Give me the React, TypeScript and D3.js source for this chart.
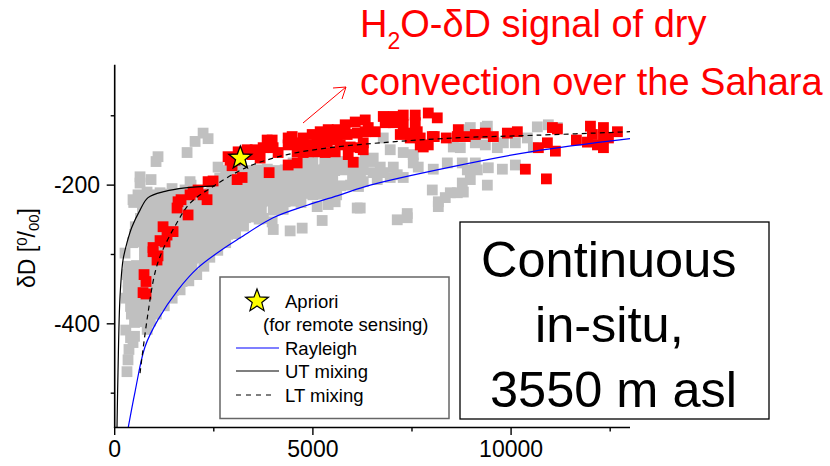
import React from "react";
import * as d3 from "d3";

const FONT = "'Liberation Sans', Arial, sans-serif";

const grayScatter: [number, number][] = [
  [2230,-125],[2356,-133],[2028,-137],[1826,-153],[1093,-159],[1043,-166],[639,-188],[639,-197],[917,-192],[2608,-174],
  [1447,-205],[1901,-195],[1926,-200],[462,-221],[588,-214],[816,-210],[1144,-211],[715,-224],[1018,-221],[1270,-218],[1775,-207],
  [260,-298],[336,-452],[310,-469],[462,-427],[400,-420],[360,-437],[500,-418],[820,-408],[280,-409],
  [6270,-195],[6623,-192],[6951,-189],[7279,-189],[7658,-174],[8037,-177],[8391,-168],[8769,-168],[9098,-168],[7532,-168],
  [7532,-156],[7279,-153],[6951,-149],[6775,-132],[6522,-161],[6320,-164],[6270,-178],[6699,-174],[7028,-174],[7128,-185],
  [6775,-182],[6522,-182],[8542,-145],[8719,-146],[9098,-139],[9350,-142],[8921,-120],[9350,-117],[10662,-116],[10940,-113],
  [11168,-117],[10410,-132],[10562,-146],[10108,-139],[9805,-139],[10108,-171],[9780,-177],[9426,-175],[9401,-200],[9653,-146],
  [9401,-115],[8971,-117],[8012,-207],[8164,-231],[8164,-224],[8340,-218],[8467,-211],[8643,-211],[8795,-210],[8769,-197],
  [8971,-192],[8896,-178],[9148,-178],[7128,-250],[7380,-247],[7380,-241],[6194,-233],
  [3644,-249],[4000,-264],[4426,-266],[4730,-262],[5234,-251],[5108,-231],[5385,-228],[5562,-224],[6118,-233],[3972,-253],
];

const grayRows: [number, number[]][] = [
  [-167,[4500,4800,5000,5300,5500,5750,6000,6200,6450]],
  [-178,[2800,3000,3200,3400,3650,3850,4100,4300,4550,4800,5050,5300,5550,5750,5950,6150]],
  [-189,[2650,2900,3100,3300,3500,3700,3900,4100,4300,4500,4700,4900,5100,5300,5500,6000,6200]],
  [-201,[2450,2650,2900,3100,3300,3500,3700,3900,4100,4300,4500,4700,4900,5100,5300,5500,5700,5950,6150]],
  [-213,[1000,1250,1500,1750,2200,2400,2600,2800,3000,3200,3400,3650,3850,4050,4250,4450,4650,4850,5000,5200,5400,5600]],
  [-224,[480,680,880,1080,1300,1500,1700,1900,2100,2300,2500,2700,2900,3100,3300,3500,3700,3900,4100,4300,4500,4700]],
  [-236,[700,900,1100,1300,1500,1700,1900,2100,2300,2500,2700,2900,3100,3300,3500,3700,4000,4250]],
  [-247,[650,850,1050,1250,1450,1650,1850,2050,2250,2450,2650,2850,3050,3300,3500,3750]],
  [-259,[520,750,950,1150,1350,1550,1750,1950,2150,2350,2550,2750,3000,3250]],
  [-270,[500,700,900,1100,1300,1500,1700,1900,2100,2300,2500,2700,2850,3050]],
  [-282,[450,650,850,1050,1250,1450,1650,1850,2050,2250,2450,2650,2800]],
  [-293,[750,950,1150,1350,1550,1750,1950,2150,2350,2600]],
  [-305,[750,950,1150,1350,1550,1750,1950,2150,2400]],
  [-316,[350,550,750,950,1150,1350,1550,1750,1950,2250]],
  [-328,[320,520,720,920,1120,1320,1520,1720,1900,2070]],
  [-339,[340,540,740,940,1140,1340,1540,1700,1870]],
  [-351,[340,540,740,940,1140,1300,1480,1650]],
  [-362,[290,490,690,890,1090,1290,1450]],
  [-374,[400,600,800,1000,1250]],
  [-385,[420,620,820,1050]],
  [-397,[500,700,900]],
];

const redPoints: [number, number][] = [
  [740,-329],[790,-339],[715,-355],[790,-357],[967,-296],[1093,-302],[1068,-308],[967,-290],[1144,-280],[1270,-282],
  [1320,-272],[1220,-260],[1472,-267],[1851,-243],[1598,-224],[1573,-233],[1674,-221],[1977,-210],[1901,-214],[2103,-207],
  [2356,-195],[2482,-194],[2229,-214],[2330,-221],[3038,-164],[2911,-164],[2860,-159],[2961,-172],[3114,-152],[3341,-149],
  [3543,-149],[3088,-192],[3214,-189],[3846,-135],[3972,-135],[3745,-146],[3997,-146],[4123,-153],[3669,-161],[3467,-156],
  [3896,-182],[4376,-171],[4603,-168],[4376,-132],[4477,-130],[4376,-142],[4628,-139],[4755,-132],[4982,-127],[5184,-123],
  [5386,-120],[5613,-120],[5815,-113],[6068,-109],[6320,-106],[4856,-142],[5108,-139],[5360,-138],[5613,-135],[5865,-127],
  [6118,-125],[6320,-123],[4881,-152],[5133,-152],[5310,-153],[5562,-152],[5891,-156],[6017,-167],[6270,-139],[4603,-152],
  [4755,-153],[5941,-145],[5689,-142],[5360,-127],[5108,-130],[6396,-117],[6194,-146],[6270,-149],[6573,-123],[6775,-101],
  [6825,-110],[7028,-101],[7279,-99],[7582,-99],[7279,-113],[7028,-110],[7582,-110],[7911,-96],[8138,-103],[7204,-127],
  [7456,-132],[7633,-123],[7405,-125],[7708,-142],[7911,-142],[7708,-132],[8062,-130],[8365,-132],[8668,-120],[8643,-130],
  [8845,-130],[9098,-127],[9350,-125],[9552,-130],[9906,-125],[10158,-123],[11042,-117],[11168,-119],[10916,-139],[10688,-146],
  [11118,-151],[10360,-177],[10891,-191],[11648,-135],[12002,-115],[12330,-117],[12683,-123],[12052,-127],[11926,-138],[12178,-142],
  [12330,-146],[12456,-132],[12330,-130],[7784,-145],[8012,-130],
];

const rayleigh: [number, number][] = [
  [343,-549],[513,-498],[765,-433],[1093,-394],[1598,-351],[2103,-319],[2785,-290],[3164,-276],[3997,-247],[4856,-229],
  [5689,-214],[6446,-200],[8467,-174],[10486,-152],[13000,-133],
];
const utMixing: [number, number][] = [
  [58,-549],[83,-470],[134,-361],[210,-308],[310,-283],[437,-260],[639,-236],[841,-218],[1270,-209],[1775,-204],[2533,-201],
];
const ltMixing: [number, number][] = [
  [639,-471],[816,-394],[1018,-326],[1194,-296],[1573,-254],[1901,-226],[2482,-202],[3341,-174],[4351,-156],[5436,-146],
  [6699,-139],[8543,-132],[10663,-128],[13000,-123],
];
const apriori: [number, number] = [3169, -161];

const xMajor = [0, 5000, 10000];
const xMinor = [2500, 7500, 12500];
const yMajor = [-200, -400];
const yMinor = [-100, -300, -500];

const x = d3.scaleLinear().domain([0, 13000]).range([114.7, 630]);
const y = d3.scaleLinear().domain([-549.5, -26.5]).range([427.5, 64.8]);
const line = d3.line<[number, number]>().x(d => x(d[0])).y(d => y(d[1])).curve(d3.curveCatmullRom);

const starPath = (cx: number, cy: number, R: number) => {
  const pts = d3.range(10).map(i => {
    const r = i % 2 === 0 ? R : R * 0.42;
    const a = -Math.PI / 2 + (i * Math.PI) / 5;
    return `${cx + r * Math.cos(a)},${cy + r * Math.sin(a)}`;
  });
  return "M" + pts.join("L") + "Z";
};

const S = 10.8;

export default function App() {
  const gray: [number, number][] = [
    ...grayRows.flatMap(([v, xs]) => xs.map((k, i) => [k, v + (i % 3) - 1] as [number, number])),
    ...grayScatter,
  ];
  return (
    <svg width={830} height={466} style={{ position: "absolute", left: 0, top: 0, display: "block", background: "#fff" }} fontFamily={FONT}>
      {gray.map((d, i) => (
        <rect key={i} x={x(d[0]) - S / 2} y={y(d[1]) - S / 2} width={S} height={S} fill="#c0c0c0" />
      ))}
      {redPoints.map((d, i) => (
        <rect key={i} x={x(d[0]) - S / 2} y={y(d[1]) - S / 2} width={S} height={S} fill="#ff0000" />
      ))}
      <path d={line(rayleigh)!} fill="none" stroke="#0000ff" strokeWidth={1.2} />
      <path d={line(utMixing)!} fill="none" stroke="#000" strokeWidth={1.2} />
      <path d={line(ltMixing)!} fill="none" stroke="#000" strokeWidth={1.2} strokeDasharray="5 4" />
      <path d={starPath(x(apriori[0]), y(apriori[1]), 12)} fill="#ffff00" stroke="#000" strokeWidth={1.3} />

      {/* axes */}
      <line x1={x(0)} x2={x(0)} y1={64.8} y2={428} stroke="#000" strokeWidth={1.6} />
      <line x1={x(0) - 0.8} x2={630} y1={427.5} y2={427.5} stroke="#000" strokeWidth={1.6} />
      {xMajor.map(t => (
        <g key={t}>
          <line x1={x(t)} x2={x(t)} y1={427.5} y2={435} stroke="#000" strokeWidth={1.4} />
          <text x={x(t)} y={457} fontSize={23} textAnchor="middle" fill="#000">{t}</text>
        </g>
      ))}
      {xMinor.map(t => (
        <line key={t} x1={x(t)} x2={x(t)} y1={427.5} y2={431.5} stroke="#000" strokeWidth={1.4} />
      ))}
      {yMajor.map(t => (
        <g key={t}>
          <line x1={x(0)} x2={x(0) - 8} y1={y(t)} y2={y(t)} stroke="#000" strokeWidth={1.4} />
          <text x={100} y={y(t) + 8} fontSize={23} textAnchor="end" fill="#000">{t}</text>
        </g>
      ))}
      {yMinor.map(t => (
        <line key={t} x1={x(0)} x2={x(0) - 4} y1={y(t)} y2={y(t)} stroke="#000" strokeWidth={1.4} />
      ))}
      <text transform="translate(35,288) rotate(-90)" fontSize={23} fill="#000">
        δD [<tspan fontSize={15} dy={-8}>0</tspan><tspan dy={8}>/</tspan><tspan fontSize={15} dy={4}>00</tspan><tspan dy={-4}>]</tspan>
      </text>

      {/* red annotation */}
      <text x={360} y={37} fontSize={38} fill="#ff0000">
        H<tspan fontSize={23} dy={12}>2</tspan><tspan dy={-12}>O-δD signal of dry</tspan>
      </text>
      <text x={360} y={95} fontSize={38} fill="#ff0000">convection over the Sahara</text>
      <path d="M303,123L346,87M333,88L346,87L342,99" fill="none" stroke="#ff0000" strokeWidth={1} />

      {/* legend */}
      <rect x={220} y={277} width={229} height={141.5} fill="#fff" stroke="#666" strokeWidth={1.5} />
      <path d={starPath(257, 301, 12)} fill="#ffff00" stroke="#000" strokeWidth={1.2} />
      <text x={285} y={308} fontSize={18.5} fill="#000">Apriori</text>
      <text x={263} y={331} fontSize={18.5} fill="#000">(for remote sensing)</text>
      <line x1={236} x2={279} y1={348} y2={348} stroke="#0000ff" strokeWidth={1.2} />
      <text x={285} y={355} fontSize={18.5} fill="#000">Rayleigh</text>
      <line x1={236} x2={279} y1={371} y2={371} stroke="#000" strokeWidth={1.2} />
      <text x={285} y={378} fontSize={18.5} fill="#000">UT mixing</text>
      <line x1={236} x2={274} y1={395} y2={395} stroke="#000" strokeWidth={1.2} strokeDasharray="5 5" />
      <text x={285} y={402} fontSize={18.5} fill="#000">LT mixing</text>

      {/* info box */}
      <rect x={460} y={222} width={309} height={197} fill="#fff" stroke="#000" strokeWidth={1.3} />
      <text x={481} y={277} fontSize={50.5} fill="#000">Continuous</text>
      <text x={535} y={342} fontSize={50.5} fill="#000">in-situ,</text>
      <text x={490} y={407} fontSize={50.5} fill="#000">3550 m asl</text>
    </svg>
  );
}
